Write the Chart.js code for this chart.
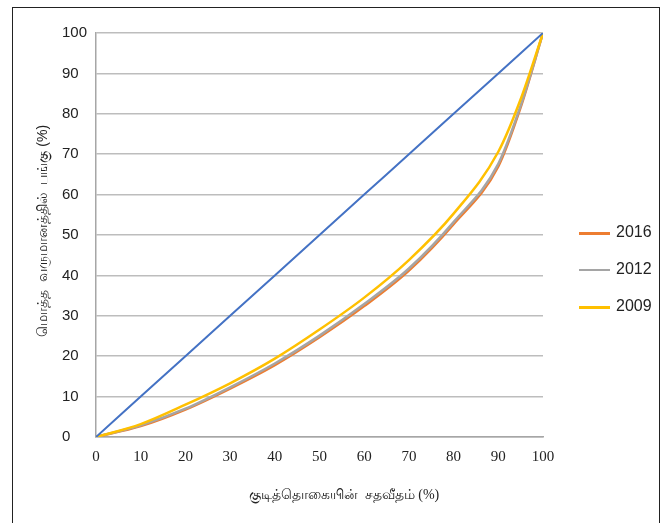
<!DOCTYPE html>
<html>
<head>
<meta charset="utf-8">
<script src="https://cdn.jsdelivr.net/npm/chart.js@4/dist/chart.umd.min.js"></script>
<style>
  html, body { margin: 0; padding: 0; background: #fff; }
  #wrap { position: relative; width: 666px; height: 523px; overflow: hidden; }
  #frame { position: absolute; left: 12px; top: 7px; width: 648px; height: 530px; border: 1.5px solid #222; box-sizing: border-box; }
  canvas { position: absolute; left: 0; top: 0; }
  .leg { position: absolute; left: 579px; font: 16px "Liberation Sans", Arial, sans-serif; color: #222; }
  .leg span.ln { position: absolute; left: 0; width: 31px; }
  .leg span.tx { position: absolute; left: 37px; top: -10px; white-space: nowrap; }
</style>
</head>
<body>
<div id="wrap">
  <div id="frame"></div>
  <canvas id="c" width="666" height="523"></canvas>
  <div id="legend"></div>
</div>
<script>
// ---- data ----
const population = [0, 10, 20, 30, 40, 50, 60, 70, 80, 90, 95, 100];
const equality   = [0, 10, 20, 30, 40, 50, 60, 70, 80, 90, 95, 100];
const share2016  = [0, 2.7, 6.8, 12.0, 17.8, 24.7, 32.4, 41.2, 52.7, 67.0, 81.6, 100];
const share2012  = [0, 2.9, 7.0, 12.3, 18.2, 25.1, 32.9, 41.7, 53.2, 67.6, 82.0, 100];
const share2009  = [0, 3.2, 8.0, 13.3, 19.4, 26.6, 34.5, 43.8, 55.3, 70.6, 83.6, 100];
const seriesLabels = ['2016', '2012', '2009'];
const xTicks = [0, 10, 20, 30, 40, 50, 60, 70, 80, 90, 100];
const yTicks = [0, 10, 20, 30, 40, 50, 60, 70, 80, 90, 100];
const xTitle = 'குடித்தொகையின்  சதவீதம் (%)';
const yTitle = 'மொத்த  வருமானத்தில்  பங்கு (%)';

const colors = { eq: '#4472c4', s2016: '#ed7d31', s2012: '#a5a5a5', s2009: '#ffc000' };

function pts(arr) { return population.map((p, i) => ({ x: p, y: arr[i] })); }

const titlePlugin = {
  id: 'axisTitles',
  afterDraw(chart) {
    const ctx = chart.ctx;
    ctx.save();
    ctx.fillStyle = '#222';
    ctx.textAlign = 'center';
    ctx.textBaseline = 'middle';
    ctx.font = '14px "Liberation Serif", "Noto Sans", serif';
    ctx.fillText(xTitle, 344, 495);
    ctx.translate(43, 231);
    ctx.rotate(-Math.PI / 2);
    ctx.font = '14px "Liberation Sans", "Noto Sans", sans-serif';
    ctx.fillText(yTitle, 0, 0);
    ctx.restore();
  }
};

new Chart(document.getElementById('c'), {
  type: 'line',
  data: {
    datasets: [
      { label: 'equality', data: pts(equality), borderColor: colors.eq, borderWidth: 2, order: 0 },
      { label: seriesLabels[2], data: pts(share2009), borderColor: colors.s2009, borderWidth: 2.5, order: 1 },
      { label: seriesLabels[1], data: pts(share2012), borderColor: colors.s2012, borderWidth: 2.5, order: 2 },
      { label: seriesLabels[0], data: pts(share2016), borderColor: colors.s2016, borderWidth: 2.5, order: 3 }
    ]
  },
  options: {
    responsive: false,
    animation: false,
    devicePixelRatio: 1,
    elements: { point: { radius: 0 }, line: { cubicInterpolationMode: 'monotone', fill: false } },
    layout: { padding: { left: 62, right: 123, top: 33, bottom: 46 } },
    plugins: { legend: { display: false }, tooltip: { enabled: false } },
    scales: {
      x: {
        type: 'linear', min: 0, max: 100,
        afterFit(s) { s.height = 40; },
        afterBuildTicks(s) { s.ticks = xTicks.map(v => ({ value: v })); },
        grid: { display: false, drawTicks: false },
        border: { display: true, color: '#a6a6a6', width: 1.5 },
        ticks: { padding: 11, color: '#222', font: { family: '"Liberation Serif", serif', size: 15 }, maxRotation: 0, autoSkip: false }
      },
      y: {
        min: 0, max: 100,
        afterFit(s) { s.width = 34; },
        afterBuildTicks(s) { s.ticks = yTicks.map(v => ({ value: v })); },
        grid: { color: '#bdbdbd', lineWidth: 1.5, drawTicks: false },
        border: { display: true, color: '#a6a6a6', width: 1.5 },
        ticks: { crossAlign: 'far', padding: 10, color: '#222', font: { family: '"Liberation Sans", Arial, sans-serif', size: 15 }, autoSkip: false }
      }
    }
  },
  plugins: [titlePlugin]
});

// legend (order as in reference)
const legend = document.getElementById('legend');
const legItems = [
  { label: seriesLabels[0], color: colors.s2016, y: 233, h: 3 },
  { label: seriesLabels[1], color: colors.s2012, y: 270, h: 2 },
  { label: seriesLabels[2], color: colors.s2009, y: 307, h: 3 }
];
legItems.forEach(it => {
  const d = document.createElement('div');
  d.className = 'leg';
  d.style.top = it.y + 'px';
  d.innerHTML = '<span class="ln" style="background:' + it.color + ';top:-1px;height:' + it.h + 'px"></span><span class="tx">' + it.label + '</span>';
  legend.appendChild(d);
});
</script>
</body>
</html>
